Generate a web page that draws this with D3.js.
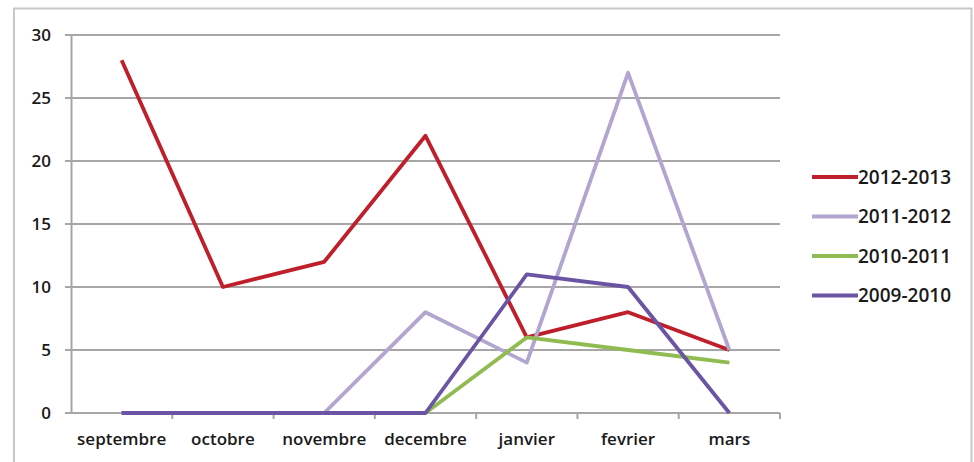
<!DOCTYPE html>
<html>
<head>
<meta charset="utf-8">
<script src="https://cdn.jsdelivr.net/npm/d3@7"></script>
<style>
body { margin: 0; background: #fff; }
text { font-family: "Open Sans", "Noto Sans", sans-serif; fill: #1a1a1a; font-weight: 600; }
</style>
</head>
<body>
<script>
// months on the x axis
var mois = ["septembre", "octobre", "novembre", "decembre", "janvier", "fevrier", "mars"];
var saisons = ["2012-2013", "2011-2012", "2010-2011", "2009-2010"];
var v2012 = [28, 10, 12, 22, 6, 8, 5];
var v2011 = [0, 0, 0, 8, 4, 27, 5];
var v2010 = [0, 0, 0, 0, 6, 5, 4];
var v2009 = [0, 0, 0, 0, 11, 10, 0];
var yTicks = [0, 5, 10, 15, 20, 25, 30];

var series = [
  { name: saisons[0], values: v2012, color: "#be1f2a" },
  { name: saisons[1], values: v2011, color: "#b2a5d0" },
  { name: saisons[2], values: v2010, color: "#8fbb50" },
  { name: saisons[3], values: v2009, color: "#6a54a3" }
];

var width = 974, height = 462;
var plotLeft = 71, plotRight = 780, plotTop = 35, plotBottom = 413;

var svg = d3.select("body").append("svg")
  .attr("width", width)
  .attr("height", height);

// chart frame
svg.append("path")
  .attr("d", "M14,462 L14,8.5 L971.5,8.5 L971.5,462")
  .attr("fill", "none")
  .attr("stroke", "#c8c8c8")
  .attr("stroke-width", 2);

var x = d3.scaleBand().domain(mois).range([plotLeft, plotRight]);
var y = d3.scaleLinear().domain([0, 30]).range([plotBottom, plotTop]);

// grid lines
svg.append("g")
  .selectAll("line")
  .data(yTicks)
  .enter()
  .append("line")
  .attr("x1", plotLeft - 6)
  .attr("x2", plotRight)
  .attr("y1", d => y(d))
  .attr("y2", d => y(d))
  .attr("stroke", "#a6a6a6")
  .attr("stroke-width", 2);

var yAxis = d3.axisLeft(y).tickValues(yTicks).tickSize(0).tickPadding(20);
var gy = svg.append("g")
  .attr("transform", "translate(" + plotLeft + ",0)")
  .call(yAxis);
gy.select(".domain").attr("stroke", "#a6a6a6").attr("stroke-width", 2);
gy.selectAll("text").style("font-size", "17px").attr("dy", "0.35em");

// x axis with ticks between categories
var xAxis = d3.axisBottom(x).tickSize(0).tickPadding(20);
var gx = svg.append("g")
  .attr("transform", "translate(0," + plotBottom + ")")
  .call(xAxis);
gx.select(".domain").remove();
gx.selectAll("text").style("font-size", "17px");
gx.append("line")
  .attr("x1", plotLeft - 6).attr("x2", plotRight)
  .attr("stroke", "#a6a6a6").attr("stroke-width", 2);
gx.selectAll(".sep")
  .data(mois)
  .enter()
  .append("line")
  .attr("class", "sep")
  .attr("x1", d => x(d) + x.bandwidth())
  .attr("x2", d => x(d) + x.bandwidth())
  .attr("y1", 0).attr("y2", 6)
  .attr("stroke", "#a6a6a6").attr("stroke-width", 2);

var line = d3.line()
  .x((d, i) => x(mois[i]) + x.bandwidth() / 2)
  .y(d => y(d));

svg.append("g")
  .selectAll("path")
  .data(series)
  .enter()
  .append("path")
  .attr("d", d => line(d.values))
  .attr("fill", "none")
  .attr("stroke", d => d.color)
  .attr("stroke-width", 3.8)
  .attr("stroke-linejoin", "round");

// legend
var leg = svg.append("g")
  .selectAll("g")
  .data(series)
  .enter()
  .append("g")
  .attr("transform", (d, i) => "translate(812," + (177 + i * 39.5) + ")");
leg.append("line")
  .attr("x1", 0).attr("x2", 46)
  .attr("stroke", d => d.color)
  .attr("stroke-width", 3.8);
leg.append("text")
  .attr("x", 46)
  .attr("dy", "0.35em")
  .style("font-size", "19px")
  .text(d => d.name);
</script>
</body>
</html>
